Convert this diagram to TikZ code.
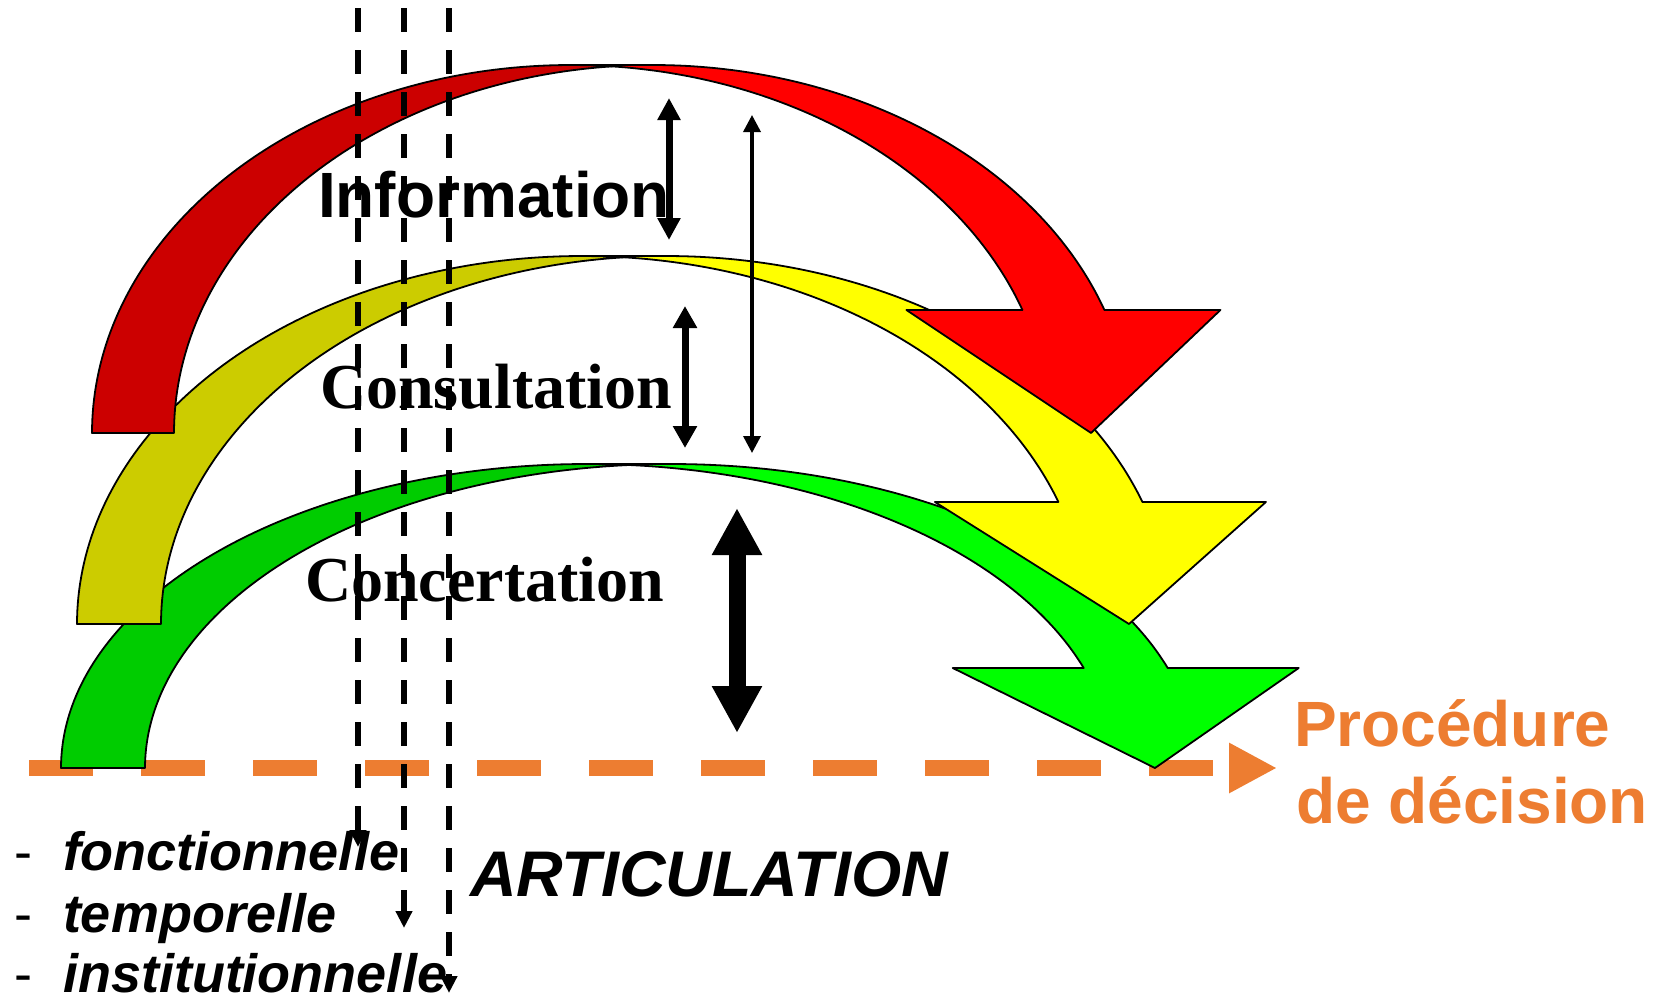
\documentclass[tikz,border=0pt]{standalone}
\usepackage{fontspec}
\setmainfont{Liberation Serif}
\newfontfamily\sansf{Liberation Sans}
\newfontfamily\seriff{Liberation Serif}
\usetikzlibrary{arrows.meta}
\definecolor{rback}{RGB}{204,0,0}
\definecolor{rfront}{RGB}{255,0,0}
\definecolor{yback}{RGB}{204,204,0}
\definecolor{yfront}{RGB}{255,255,0}
\definecolor{gback}{RGB}{0,204,0}
\definecolor{gfront}{RGB}{0,255,0}
\definecolor{orng}{RGB}{237,125,49}
\tikzset{
  outl/.style={draw=black, line width=1.8pt, line join=round},
  vdashline/.style={line width=5.5pt, dash pattern=on 24pt off 18pt, -{Triangle[length=17pt,width=16pt]}},
  orangeline/.style={draw=orng, line width=16pt, dash pattern=on 64pt off 48pt, -{Triangle[length=48pt,width=47pt]}},
  lbl/.style={anchor=base west, inner sep=0pt, outer sep=0pt},
  bigsans/.style={lbl, font=\sansf\bfseries\fontsize{64}{64}\selectfont},
  bigserif/.style={lbl, font=\seriff\bfseries\fontsize{64}{64}\selectfont},
  listtxt/.style={lbl, font=\sansf\bfseries\itshape\fontsize{54}{54}\selectfont},
  hyph/.style={lbl, font=\sansf\fontsize{54}{54}\selectfont},
}
% #1 l, #2 th, #3 wR, #4 h, #5 b, #6 ah, #7 aw, #8 back colour, #9 front colour
\newcommand\curvarrow[9]{%
 \pgfmathsetmacro\cwx{#1+#3}%
 \pgfmathsetmacro\cxx{#1+#2+#3}%
 \pgfmathsetmacro\angi{asin(#2/(2*#3))}%
 \pgfmathsetmacro\angs{asin(#6/#4)}%
 \pgfmathsetmacro\aone{270+\angi}%
 \pgfmathsetmacro\atwo{270-\angi}%
 \pgfmathsetmacro\athree{360-\angs}%
 \pgfmathsetmacro\xfive{\cwx+#3*cos(\athree)}%
 \pgfmathsetmacro\xseven{\xfive+#2}%
 \pgfmathsetmacro\dhh{(#7-#2)/2}%
 \pgfmathsetmacro\xfour{\xfive-\dhh}%
 \pgfmathsetmacro\xeight{\xseven+\dhh}%
 \pgfmathsetmacro\xtip{\cwx+#3+#2/2}%
 \pgfmathsetmacro\yone{#5-#6}%
 \filldraw[fill=#9, outl] (\xtip,#5) -- (\xfour,\yone) -- (\xfive,\yone)
   -- plot[domain=\athree:270, samples=90] ({\cwx+#3*cos(\x)},{#5+#4*sin(\x)})
   -- plot[domain=270:\athree, samples=90] ({\cxx+#3*cos(\x)},{#5+#4*sin(\x)})
   -- (\xeight,\yone) -- cycle;
 \filldraw[fill=#8, outl] plot[domain=180:\aone, samples=90] ({\cwx+#3*cos(\x)},{#5+#4*sin(\x)})
   -- plot[domain=\atwo:180, samples=90] ({\cxx+#3*cos(\x)},{#5+#4*sin(\x)}) -- cycle;
}
\begin{document}
\begin{tikzpicture}[x=1pt, y=-1pt]
\useasboundingbox (0,0) rectangle (1655,1001);
\fill[white] (0,0) rectangle (1655,1001);

% decision line
\coordinate (ol) at (29,768);
\coordinate (or) at (1277,768);
\draw[orangeline] (ol) -- (or);

% curved arrows (green, yellow, red)
\curvarrow{61}{84}{526}{304}{768}{100}{346}{gback}{gfront}
\curvarrow{77}{84}{505}{368}{624}{122}{331}{yback}{yfront}
\curvarrow{92}{82}{479}{368}{433}{123}{314}{rback}{rfront}

% double arrows
\coordinate (a1t) at (669,98);  \coordinate (a1b) at (669,240);
\coordinate (a2t) at (752,115); \coordinate (a2b) at (752,453);
\coordinate (a3t) at (685,306); \coordinate (a3b) at (685,448);
\coordinate (a4t) at (737,508); \coordinate (a4b) at (737,733);
\draw[line width=7pt, {Triangle[length=22pt,width=22pt]}-{Triangle[length=22pt,width=22pt]}] (a1t) -- (a1b);
\draw[line width=3.5pt, {Triangle[length=17pt,width=17pt]}-{Triangle[length=17pt,width=17pt]}] (a2t) -- (a2b);
\draw[line width=7pt, {Triangle[length=22pt,width=23pt]}-{Triangle[length=22pt,width=23pt]}] (a3t) -- (a3b);
\draw[line width=17pt, {Triangle[length=47pt,width=47pt]}-{Triangle[length=47pt,width=47pt]}] (a4t) -- (a4b);

% texts
\node[bigsans] (info) at (318,217) {Information};
\node[bigserif] (cons) at (320,408) {Consultation};
\node[bigserif] (conc) at (305,601) {Concertation};
\node[bigsans, text=orng] (proc) at (1294,746) {Procédure};
\node[bigsans, text=orng] (dec) at (1296,823) {de décision};
\node[bigsans, font=\sansf\bfseries\itshape\fontsize{64.5}{64.5}\selectfont] (artic) at (470,896) {ARTICULATION};
\node[hyph] (h1) at (14,870) {-};
\node[hyph] (h2) at (14,932) {-};
\node[hyph] (h3) at (14,992) {-};
\node[listtxt] (fonc) at (63,870) {fonctionnelle};
\node[listtxt] (temp) at (63,932) {temporelle};
\node[listtxt] (inst) at (63,992) {institutionnelle};

% vertical dashed articulation lines
\coordinate (d1s) at (358,8); \coordinate (d1e) at (358,847);
\coordinate (d2s) at (404,8); \coordinate (d2e) at (404,928);
\coordinate (d3s) at (449,8); \coordinate (d3e) at (449,993);
\draw[vdashline] (d1s) -- (d1e);
\draw[vdashline] (d2s) -- (d2e);
\draw[vdashline] (d3s) -- (d3e);
\end{tikzpicture}
\end{document}
